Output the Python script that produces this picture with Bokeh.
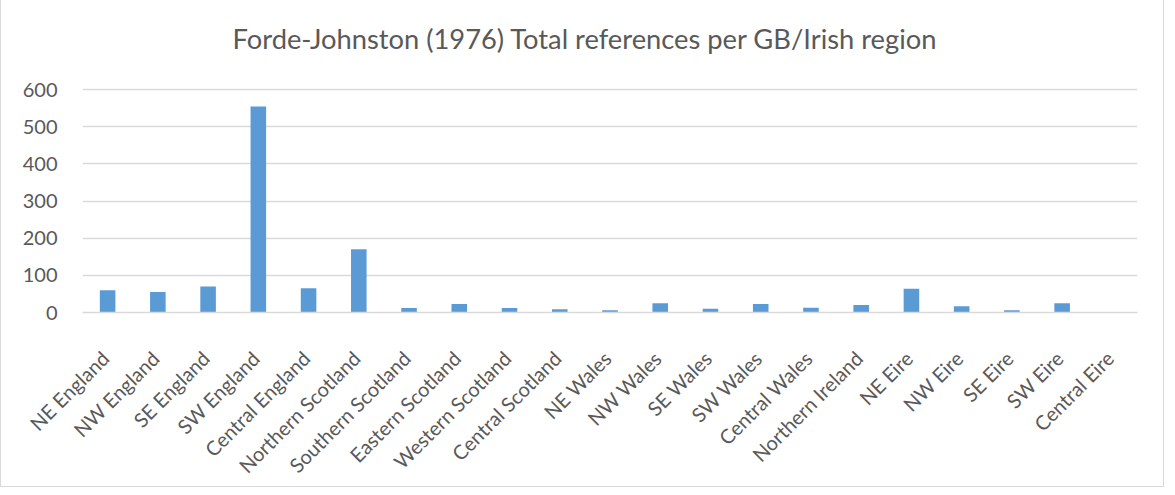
import math
from bokeh.plotting import figure
from bokeh.models import Range1d, FixedTicker, Title, LinearAxis, ColumnDataSource
from bokeh.embed import file_html
from bokeh.resources import INLINE

regions = ["NE England", "NW England", "SE England", "SW England", "Central England",
           "Northern Scotland", "Southern Scotland", "Eastern Scotland", "Western Scotland",
           "Central Scotland", "NE Wales", "NW Wales", "SE Wales", "SW Wales", "Central Wales",
           "Northern Ireland", "NE Eire", "NW Eire", "SE Eire", "SW Eire", "Central Eire"]
references = [60, 55, 70, 554, 65, 170, 12, 23, 12, 9, 6, 25, 10, 23, 13, 20, 64, 17, 6, 25, 0]
y_ticks = [0, 100, 200, 300, 400, 500, 600]

FONT = "Lato"
GREY = "#595959"
LABEL_SHIFT = -0.05   # nudge of the rotated category names, in category widths

# layout (px, figure coordinates)
FRAME_TOP, GRID_TOP, FRAME_BOTTOM, FIG_H = 72, 89, 312, 488
y_top = y_ticks[-1] * (FRAME_BOTTOM - FRAME_TOP) / (FRAME_BOTTOM - GRID_TOP)

n = len(regions)
slot = [i + 0.5 for i in range(n)]   # centre of each category slot
src = ColumnDataSource(data=dict(region=regions, refs=references, slot=slot))

p = figure(width=1164, height=FIG_H, output_backend="svg", toolbar_location=None,
           x_range=Range1d(0, n), y_range=Range1d(0, y_top),
           min_border_left=81, min_border_right=28, min_border_top=FRAME_TOP,
           min_border_bottom=FIG_H - FRAME_BOTTOM)

p.vbar(x="slot", top="refs", width=0.31, color="#5b9bd5", line_color=None, source=src)

p.title = Title(text="Forde-Johnston (1976) Total references per GB/Irish region",
                align="left", offset=150, text_font=FONT, text_font_size="27.3px",
                text_color=GREY, text_font_style="normal", standoff=36)

p.outline_line_color = None
p.styles = {"border": "1px solid #d9d9d9", "margin-top": "-1px", "margin-bottom": "-10px"}

p.xgrid.grid_line_color = None
p.ygrid.grid_line_color = "#d9d9d9"
p.ygrid.grid_line_width = 1.5
p.yaxis.ticker = FixedTicker(ticks=y_ticks)
p.yaxis.axis_line_color = None
p.yaxis.major_tick_line_color = None
p.yaxis.minor_tick_line_color = None
p.yaxis.major_label_standoff = 19
p.yaxis.major_label_text_font = FONT
p.yaxis.major_label_text_font_size = "20px"
p.yaxis.major_label_text_color = GREY

# category axis: tick positions on a companion range so the rotated names can be nudged
p.xaxis.visible = False
p.extra_x_ranges = {"labels": Range1d(-LABEL_SHIFT, n - LABEL_SHIFT)}
cat_axis = LinearAxis(x_range_name="labels", ticker=FixedTicker(ticks=slot, minor_ticks=[]),
                      major_label_overrides={t: name for t, name in zip(slot, regions)})
cat_axis.axis_line_color = "#d9d9d9"
cat_axis.axis_line_width = 1.5
cat_axis.major_tick_line_color = None
cat_axis.minor_tick_line_color = None
cat_axis.major_label_orientation = math.pi / 4
cat_axis.major_label_standoff = 36
cat_axis.major_label_text_font = FONT
cat_axis.major_label_text_font_size = "20px"
cat_axis.major_label_text_color = GREY
p.add_layout(cat_axis, "below")

open("out.html", "w").write(file_html(p, INLINE))
